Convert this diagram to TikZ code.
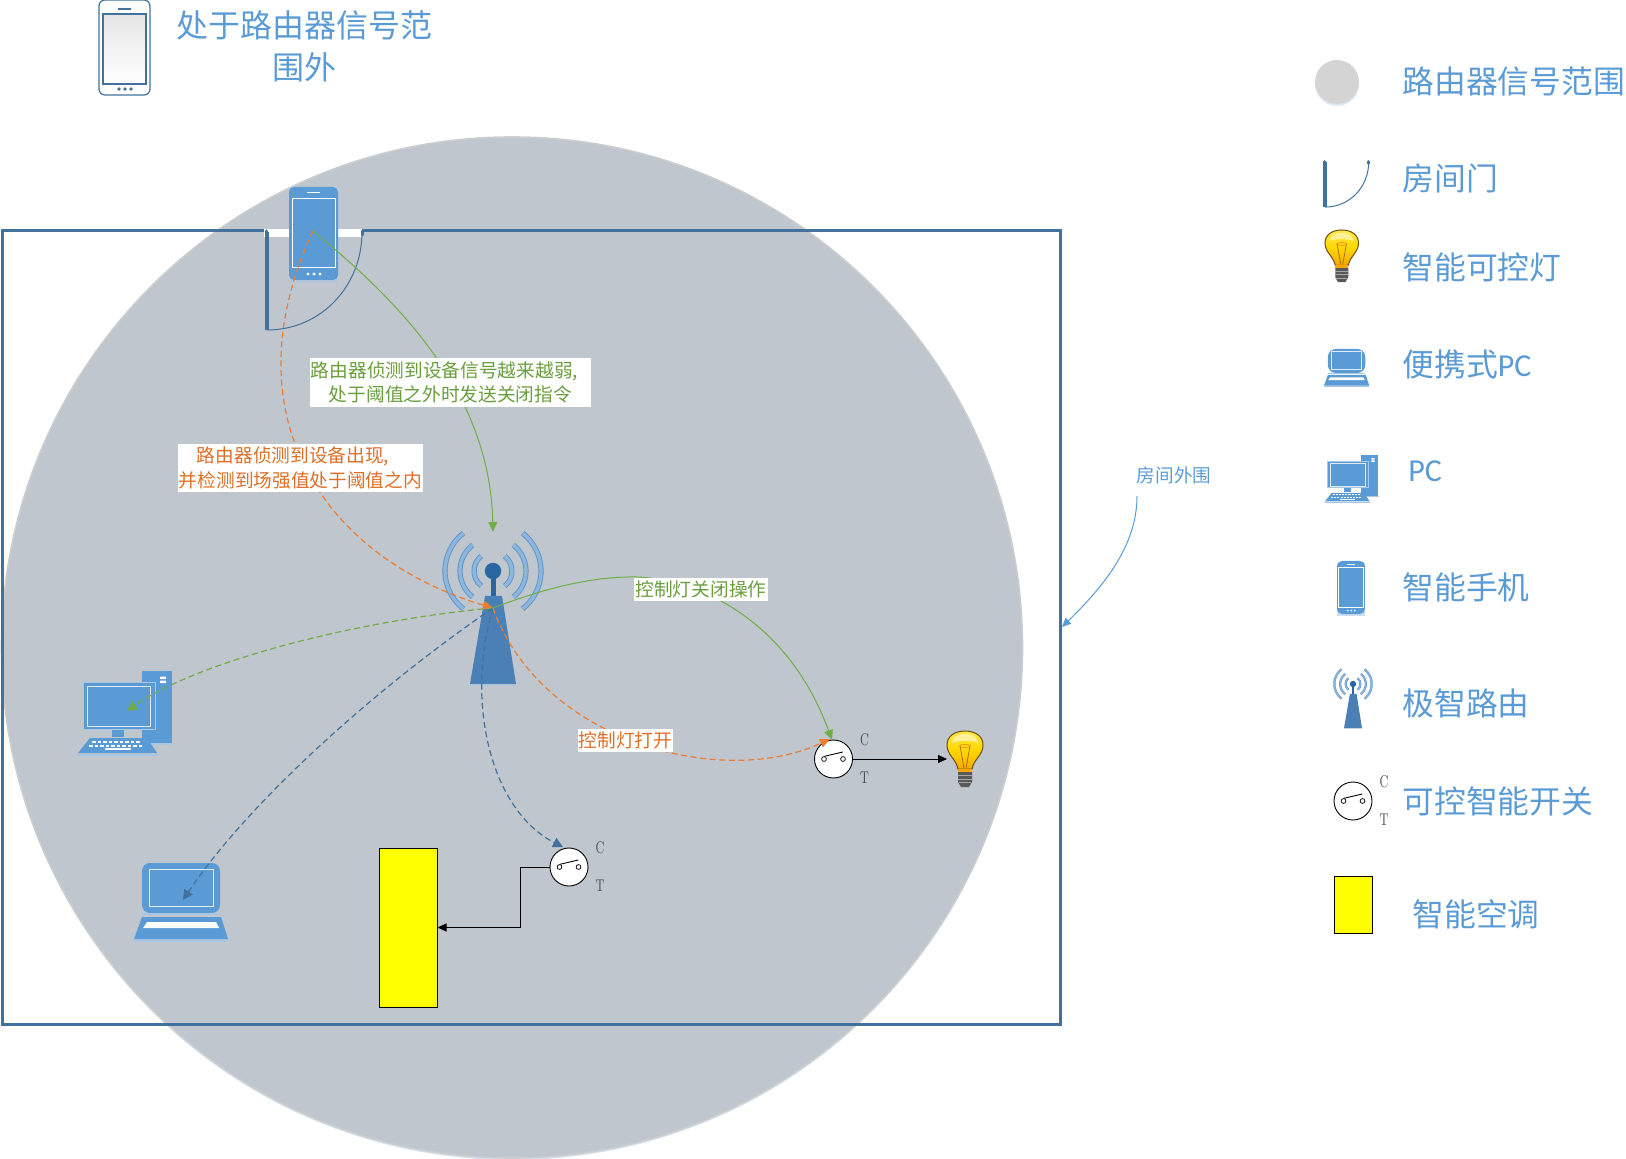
\documentclass[tikz,border=0pt]{standalone}
\usepackage{fontspec}
\usepackage{xcolor}
\usepackage{tikz}
\usetikzlibrary{arrows.meta,positioning}
\newfontfamily\cjk{Noto Sans CJK SC}
\newfontfamily\pcfont{Carlito}

\definecolor{rangefill}{HTML}{BFC6CD}
\definecolor{rangeedge}{HTML}{CBCDCF}
\definecolor{wallblue}{HTML}{41719C}
\definecolor{iconblue}{HTML}{5B9BD5}
\definecolor{iconedge}{HTML}{A9C6E3}
\definecolor{arcblue}{HTML}{8DB6DE}
\definecolor{arcedge}{HTML}{5F93C8}
\definecolor{towerblue}{HTML}{4A80B5}
\definecolor{ballblue}{HTML}{2A67A0}
\definecolor{linegreen}{HTML}{70AD47}
\definecolor{lineorange}{HTML}{ED7D31}
\definecolor{textgreen}{HTML}{6A9E3E}
\definecolor{textorange}{HTML}{DD7028}
\definecolor{acyellow}{HTML}{FFFF00}
\definecolor{glasstop}{HTML}{FFE94A}
\definecolor{glassmid}{HTML}{FFD800}
\definecolor{glasslow}{HTML}{F4A700}
\definecolor{glassedge}{HTML}{6B4E10}

\tikzset{
    pics/phoneicon/.style={code={
        \fill[iconedge,opacity=.6] (0,3) rectangle (49,96);
        \fill[iconblue,rounded corners=2.5pt] (0,0) rectangle (49,93);
        \draw[white,line width=.5pt] (3,12) rectangle (46,81);
        \draw[white,line width=.5pt] (18,6) -- (31,6);
        \foreach \dx in {19,25,31} \fill[white] (\dx,87) circle (1.6);
    }},
    pics/phoneoutline/.style={code={
        \draw[wallblue,line width=.6pt,rounded corners=3pt] (0,0) rectangle (51,95);
        \fill[top color=gray!20,bottom color=white] (4,14) rectangle (47,84);
        \draw[wallblue,line width=.6pt] (4,14) rectangle (47,84);
        \draw[wallblue,line width=.6pt] (19,9) -- (32,9);
        \foreach \dx in {20,26,32} \fill[wallblue] (\dx,89) circle (1.8);
    }},
    pics/doorswing/.style={code={
        \draw[wallblue,line width=1.6pt] (0,0) -- (0,98);
        \draw[wallblue,line width=.5pt] (0,98) .. controls (54,98) and (95,54) .. (95,0);
        \draw[wallblue,line width=1.5pt,line cap=round] (-1,-1) -- (-1,3) (95,-1) -- (95,3);
    }},
    pics/bulbicon/.style={code={
        \draw[glassedge,line width=.5pt,top color=glasstop,bottom color=glasslow,middle color=glassmid]
            (11,38) .. controls (9,28) and (0,24) .. (0,14) .. controls (0,5) and (8,0) .. (18,0)
            .. controls (28,0) and (36,5) .. (36,14) .. controls (36,24) and (27,28) .. (25,38) -- cycle;
        \fill[white,opacity=.5] (5,12) .. controls (6,5) and (12,3) .. (18,3) .. controls (24,3) and (30,5) .. (31,12)
            .. controls (25,9) and (11,9) .. (5,12) -- cycle;
        \draw[glassedge!70!orange,line width=.3pt] (13,15) -- (17,37) (23,15) -- (19,37);
        \draw[brown!40!orange,line width=.3pt] (18,15) ellipse (5.5 and 1.5);
        \fill[glasslow] (11,38) rectangle (25,41);
        \fill[black!65] (11,41) -- (25,41) -- (25,51) -- (22,56) -- (14,56) -- (11,51) -- cycle;
        \draw[black!35,line width=.3pt] (11,44.5) -- (25,44.5) (11,48) -- (25,48) (12,51.5) -- (24,51.5);
    }},
    pics/laptopicon/.style={code={
        \fill[iconedge] (0,76) rectangle (94,79);
        \fill[iconblue,rounded corners=4pt] (8,50) -- (8,0) -- (86,0) -- (86,50) -- cycle;
        \fill[iconedge] (8,50) rectangle (86,52);
        \draw[white!80!iconblue,line width=.5pt] (15,6) rectangle (79,43);
        \fill[iconblue] (8,54) -- (87,54) -- (94,76) -- (0,76) -- cycle;
        \fill[white] (13,59) -- (82,59) -- (85,65) -- (9,65) -- cycle;
    }},
    pics/pcicon/.style={code={
        \fill[iconblue] (64,0) rectangle (94,72);
        \fill[iconedge] (64,72) rectangle (95,74);
        \fill[white] (82,5.5) rectangle (88,8) (82,9.5) rectangle (88,12);
        \fill[iconblue] (5,11) rectangle (77,58);
        \draw[iconedge,line width=.4pt] (5,11) rectangle (77,58);
        \draw[white!80!iconblue,line width=.5pt] (9,15) rectangle (72,55);
        \fill[iconblue] (34,59) rectangle (46,66);
        \fill[iconblue] (12,67) -- (69,67) -- (79,82) -- (0,82) -- cycle;
        \fill[iconedge] (0,83) rectangle (80,85);
        \foreach \kx in {14,19.5,...,62} \fill[white] (\kx,69.5) rectangle ++(3.6,2);
        \foreach \kx in {11,16.5,...,65} \fill[white] (\kx,73.5) rectangle ++(3.6,2);
        \fill[white] (27,77) rectangle (53,79);
    }},
    pics/routericon/.style 2 args={code={
        \foreach \rr in {19,33,48} {
            \draw[arcedge,line width=#1] ([shift={(-52:\rr)}]0,0) arc[start angle=-52,end angle=52,radius=\rr];
            \draw[arcblue,line width=#2] ([shift={(-52:\rr)}]0,0) arc[start angle=-52,end angle=52,radius=\rr];
            \draw[arcedge,line width=#1] ([shift={(128:\rr)}]0,0) arc[start angle=128,end angle=232,radius=\rr];
            \draw[arcblue,line width=#2] ([shift={(128:\rr)}]0,0) arc[start angle=128,end angle=232,radius=\rr];
        }
        \fill[towerblue] (-8,25) -- (9,25) -- (23,113) -- (-23,113) -- cycle;
        \fill[iconedge,opacity=.6] (-23,113) rectangle (23,115);
        \fill[ballblue] (-2.5,0) rectangle (2.5,25);
        \fill[ballblue] (0,0) circle (8.2);
    }},
    pics/switchglyph/.style={code={
        \draw[black,line width=.35pt] (-9.5,0) circle (2.4) (9.5,0) circle (2.4);
        \draw[black,line width=.45pt] (-9,-2.7) -- (9.3,-7);
    }}
}

% switch with its C and T marks
\newcommand{\switchicon}[2]{
    \node[switchnode] (#1) at (#2) {};
    \pic at (#1) {switchglyph};
    \node[ctlabel] (#1c) at ([xshift=15.5pt,yshift=9.5pt]#1) {\scalebox{.7}[1]{C}};
    \node[ctlabel] (#1t) at ([xshift=15.5pt,yshift=-9.5pt]#1) {\scalebox{.7}[1]{T}};
}

\begin{document}
\begin{tikzpicture}[
        x=0.5pt, y=-0.5pt,
        switchnode/.style={circle, draw=black, fill=white, line width=.45pt, minimum size=19pt, inner sep=0pt},
        ctlabel/.style={font=\fontsize{8.5}{9}\selectfont, text=black!70, inner sep=0pt},
        aircon/.style={rectangle, draw=black, fill=acyellow, line width=.5pt, inner sep=0pt},
        legend/.style={anchor=west, inner sep=0pt, text=iconblue, font=\fontsize{15.9}{21}\selectfont\cjk},
        notelabel/.style={inner xsep=.6pt, inner ysep=1.5pt, fill=white, align=center, font=\fontsize{9.35}{12.4}\selectfont\cjk},
        greenlabel/.style={notelabel, text=textgreen},
        orangelabel/.style={notelabel, text=textorange},
        solidgreen/.style={draw=linegreen, line width=.5pt, -{Triangle[length=5pt,width=4.4pt]}},
        dashgreen/.style={draw=linegreen, line width=.6pt, dash pattern=on 3pt off 1.8pt, -{Triangle[length=5pt,width=5pt]}},
        dashorange/.style={draw=lineorange, line width=.6pt, dash pattern=on 3pt off 1.8pt, -{Triangle[length=5pt,width=4.4pt]}},
        dashblue/.style={draw=wallblue, line width=.6pt, dash pattern=on 3pt off 1.8pt, -{Triangle[length=5pt,width=5pt]}},
        wirearrow/.style={draw=black, line width=.5pt, -{Triangle[length=4.5pt,width=4pt]}}
    ]
    \useasboundingbox (0,0) rectangle (1626,1159);

    % Signal range and room
    \fill[iconedge!50!white] (512,649.5) circle (510.5);
    \draw[rangeedge, fill=rangefill, line width=.8pt] (512,647.5) circle (510.5);
    \node[rectangle, draw=wallblue, line width=1.5pt, minimum width=529pt, minimum height=397.2pt, inner sep=0pt] (room) at (531.5,627.5) {};
    \fill[white] (264,229) rectangle (362,237);
    \pic at (267,232) {doorswing};

    % Out of range phone
    \pic at (99,0) {phoneoutline};
    \node[inner sep=0pt, text=iconblue, align=center, font=\fontsize{16}{21}\selectfont\cjk] (outtext) at (304,46) {处于路由器信号范\\围外};

    % Devices
    \pic at (289,187) {phoneicon};
    \pic at (493,571) {routericon={2.6pt}{1.7pt}};
    \pic at (78,671) {pcicon};
    \pic at (134,863) {laptopicon};
    \pic at (947,731) {bulbicon};
    \node[aircon, minimum width=29pt, minimum height=79.5pt] (ac) at (408,927.5) {};
    \switchicon{swlamp}{833.5,759}
    \switchicon{swac}{569,867}

    % Curve ends
    \coordinate (phonein) at (313,231);
    \coordinate (hub) at (493,608);
    \coordinate (routertop) at (493,532);
    \coordinate (pcin) at (127,711);
    \coordinate (laptopin) at (183,900);
    \coordinate (lampin) at (832,740);
    \coordinate (lampin2) at (830,739);
    \coordinate (acin) at (563,847);
    \coordinate (bulbin) at (947,759);
    \coordinate (wallpoint) at (1062,627);

    % Connections
    \draw[solidgreen] (phonein) .. controls (410,310) and (490,400) .. (routertop);
    \draw[dashorange] (phonein) .. controls (225,420) and (330,560) .. (hub);
    \draw[dashgreen] (hub) .. controls (360,620) and (200,660) .. (pcin);
    \draw[dashblue] (hub) .. controls (380,685) and (250,800) .. (laptopin);
    \draw[dashblue] (hub) .. controls (465,700) and (490,810) .. (acin);
    \draw[dashorange] (hub) .. controls (540,740) and (720,790) .. (lampin2);
    \draw[solidgreen] (hub) .. controls (540,590) and (590,576) .. (637,577) .. controls (705,580) and (790,625) .. (lampin);
    \draw[wirearrow] (swlamp.east) -- (bulbin);
    \draw[wirearrow] (swac.west) -- ++(-29,0) |- (ac.east);

    % Labels on the connections
    \node[greenlabel] (offnote) at (450.5,382.5) {路由器侦测到设备信号越来越弱,\hspace*{.65em}\\处于阈值之外时发送关闭指令};
    \node[orangelabel] (onnote) at (300.5,468) {路由器侦测到设备出现,\hspace*{.8em}\\并检测到场强值处于阈值之内};
    \node[greenlabel] (offlabel) at (701,589.5) {控制灯关闭操作};
    \node[orangelabel] (onlabel) at (625.5,740.5) {控制灯打开};

    % Room note
    \node[inner sep=0pt, text=iconblue, font=\fontsize{9.3}{12}\selectfont\cjk] (roomlabel) at (1174,475) {房间外围};
    \draw[draw=iconblue, line width=.5pt, -{Triangle[length=4.5pt,width=4pt]}] (1137,496) .. controls (1137,545) and (1105,585) .. (wallpoint);

    % Legend
    \node[circle, fill=iconedge!40!white, minimum size=22pt, inner sep=0pt] (keyshadow) at (1337,84) {};
    \node[circle, fill=black!17, minimum size=22pt, inner sep=0pt] (keyrange) at (1337,82) {};
    \node[legend] (keyrangetext) at (1402,81) {路由器信号范围};
    \pic[scale=.46] at (1325,162) {doorswing};
    \node[legend] (keydoortext) at (1402,178) {房间门};
    \pic[scale=.93] at (1325,230) {bulbicon};
    \node[legend] (keylamptext) at (1402,267) {智能可控灯};
    \pic[scale=.48] at (1324,349) {laptopicon};
    \node[legend] (keylaptoptext) at (1402,364) {便携式{\pcfont\fontsize{16}{21}\selectfont PC}};
    \pic[scale=.565] at (1325,455) {pcicon};
    \node[legend] (keypctext) at (1408,471) {\pcfont\fontsize{16}{21}\selectfont PC};
    \pic[scale=.57] at (1337,561) {phoneicon};
    \node[legend] (keyphonetext) at (1402,587) {智能手机};
    \pic[scale=.39] at (1353,684) {routericon={1.1pt}{.6pt}};
    \node[legend] (keyroutertext) at (1402,703) {极智路由};
    \switchicon{keyswitch}{1353,801}
    \node[legend] (keyswitchtext) at (1402,801) {可控智能开关};
    \node[aircon, minimum width=19pt, minimum height=28.5pt] (keyac) at (1353,904.5) {};
    \node[legend] (keyactext) at (1412,914) {智能空调};
\end{tikzpicture}
\end{document}
